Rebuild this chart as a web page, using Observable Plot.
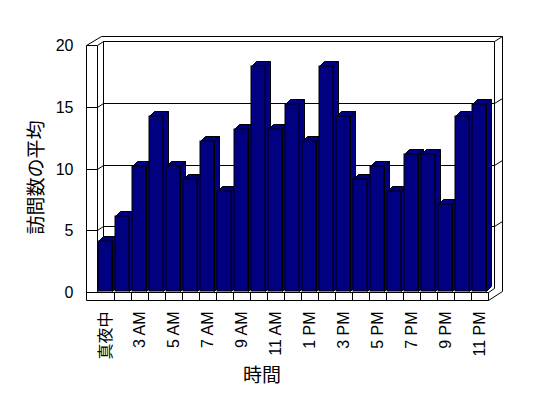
<!DOCTYPE html>
<html><head><meta charset="utf-8">
<script src="https://cdn.jsdelivr.net/npm/d3@7"></script>
<script src="https://cdn.jsdelivr.net/npm/@observablehq/plot@0.6"></script>
<style>html,body{margin:0;padding:0;background:#fff;}</style>
</head><body><div id="chart"></div>
<script>
const hours = ["真夜中","1 AM","3 AM","4 AM","5 AM","6 AM","7 AM","8 AM","9 AM","10 AM","11 AM","正午","1 PM","2 PM","3 PM","4 PM","5 PM","6 PM","7 PM","8 PM","9 PM","10 PM","11 PM"];
const visits = [4,6,10,14,10,9,12,8,13,18,13,15,12,18,14,9,10,8,11,11,7,14,15];
const shownLabels = ["真夜中","3 AM","5 AM","7 AM","9 AM","11 AM","1 PM","3 PM","5 PM","7 PM","9 PM","11 PM"];
const yTicks = [0,5,10,15,20];
const yTitle = "訪問数の平均";
const xTitle = "時間";

const data = hours.map((h, i) => ({hour: h, value: visits[i]}));
const shown = new Set(shownLabels);

const NAVY = "#000080";
const FONT = '"Liberation Sans", "Noto Sans CJK JP", sans-serif';
const CJK = '"Noto Sans CJK JP", sans-serif';
const D = [6, -4];     // inner depth of the box
const O = [14, -9];    // outer depth (wall thickness)
const B = [5, -5];     // bar depth
const WALL = 11;       // left wall thickness
const FLOOR = 8;       // floor thickness

function frame(index, scales) {
  const {x, y} = scales;
  const bw = x.bandwidth();
  const [X0, X1] = x.range();
  const wf = d3.scaleLinear().domain(y.domain()).range([y.range()[0] + 1, y.range()[1] + 4]);
  const w = v => Math.round(wf(v));
  const top = w(yTicks[yTicks.length - 1]);
  const bot = w(yTicks[0]);
  const L = X0 - WALL;
  const yB = bot + FLOOR;
  const g = d3.create("svg:g");
  const lines = g.append("g").attr("transform", "translate(0.5,0.5)")
    .attr("fill", "none").attr("stroke", "black").attr("stroke-width", 1);
  const seg = pts => lines.append("path").attr("d", "M" + pts.map(p => p.join(",")).join("L"));
  yTicks.filter(v => v > 0).forEach(v => {
    const yy = w(v);
    seg([[L, yy], [X0, yy], [X0 + D[0], yy + D[1]], [X1 + D[0], yy + D[1]], [X1 + O[0], yy + O[1]]]);
  });
  seg([[L, top], [L, yB]]);
  seg([[L, top], [L + O[0] + 1, top + O[1]], [X1 + O[0], top + O[1]], [X1 + O[0], yB + O[1]]]);
  seg([[X0, top], [X0, bot]]);
  seg([[X0 + D[0], top + D[1]], [X0 + D[0], bot + D[1]]]);
  seg([[X1 + D[0], top + D[1]], [X1 + D[0], bot + D[1]], [X1, bot]]);
  seg([[L, bot], [X1, bot], [X1, yB], [L, yB]]);
  seg([[X1, yB], [X1 + O[0], yB + O[1]]]);
  for (let k = 1; k < hours.length; k++) {
    const xx = X0 + bw * k;
    seg([[xx, bot], [xx, yB]]);
  }
  const labels = g.append("g").attr("font-family", FONT).attr("font-size", 16)
    .attr("text-anchor", "end").attr("fill", "black");
  yTicks.forEach(v => {
    labels.append("text").attr("x", L - 12.5).attr("y", w(v)).attr("dy", "0.36em").text(String(v));
  });
  return g.node();
}

function bars3d(index, scales) {
  const {x, y} = scales;
  const bw = x.bandwidth();
  const g = d3.create("svg:g").attr("transform", "translate(0.5,0.5)")
    .attr("fill", NAVY).attr("stroke", "black").attr("stroke-width", 1);
  const y0 = y(0);
  data.forEach(d => {
    const xl = x(d.hour) + 1, xr = x(d.hour) + bw - 2, yt = y(d.value);
    g.append("path").attr("d", `M${xr},${yt}L${xr + B[0]},${yt + B[1]}L${xr + B[0]},${y0 + B[1]}L${xr},${y0}Z`);
    g.append("path").attr("d", `M${xl},${yt}L${xr},${yt}L${xr + B[0]},${yt + B[1]}L${xl + B[0]},${yt + B[1]}Z`);
  });
  return g.node();
}

const chart = Plot.plot({
  width: 548,
  height: 398,
  marginLeft: 97,
  marginRight: 60,
  marginTop: 41,
  marginBottom: 107,
  style: {fontFamily: FONT, fontSize: "16px", background: "white", color: "black"},
  x: {type: "band", domain: hours, paddingInner: 0, paddingOuter: 0, round: false, axis: null},
  y: {domain: [0, 20], round: true, axis: null},
  marks: [
    frame,
    bars3d,
    Plot.barY(data, {x: "hour", y: "value", fill: NAVY, stroke: "black", strokeWidth: 1, insetLeft: 1, insetRight: 2}),
    Plot.axisX({tickFormat: d => shown.has(d) ? d : "", tickSize: 0, tickPadding: 20, tickRotate: -90, fontSize: 16, label: null}),
    Plot.text([xTitle], {frameAnchor: "bottom", dx: -31, dy: 90, fontSize: 19, fontFamily: CJK, textAnchor: "middle", fill: "black"}),
    Plot.text([yTitle], {frameAnchor: "left", rotate: -90, dx: -61, dy: 11, fontSize: 19, fontFamily: CJK, textAnchor: "middle", fill: "black"})
  ]
});
document.getElementById("chart").appendChild(chart);
</script>
</body></html>
